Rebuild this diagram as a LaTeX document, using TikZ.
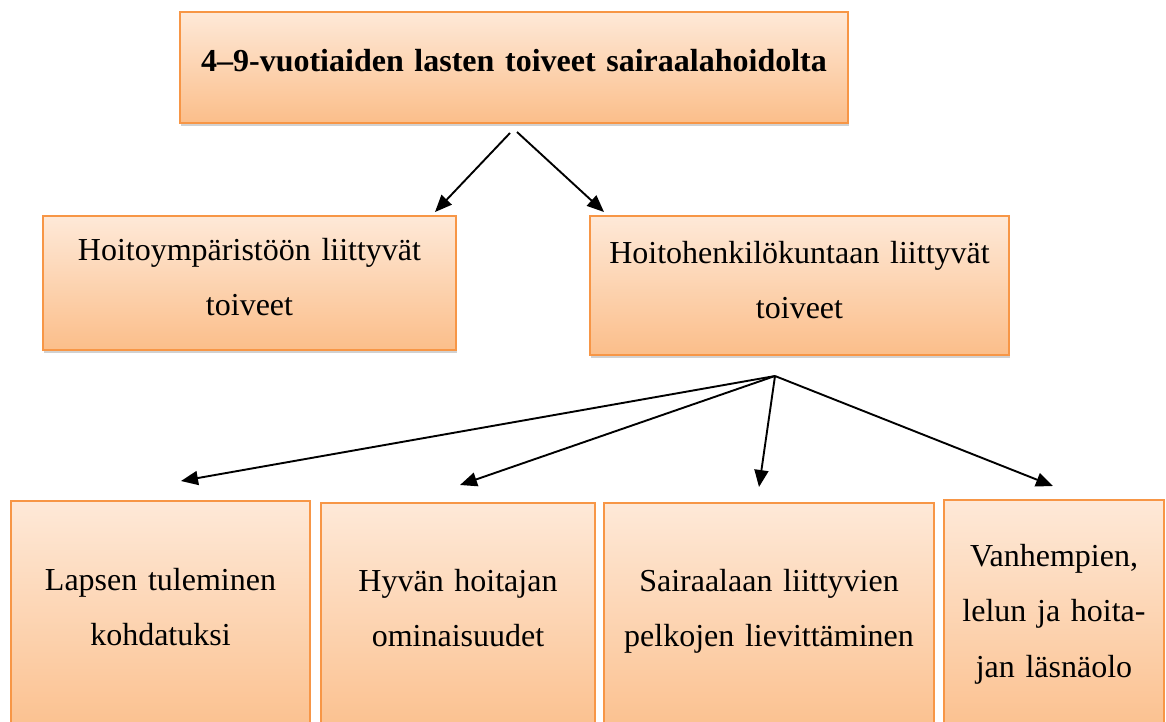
\documentclass[tikz,border=0pt]{standalone}
\usepackage{fontspec}
\setmainfont{Liberation Serif}
\usetikzlibrary{arrows.meta,shadows}
\definecolor{boxorange}{RGB}{247,150,70}
\definecolor{peachtop}{RGB}{254,233,216}
\definecolor{peachbot}{RGB}{251,190,138}
\tikzset{
  box/.style={draw=boxorange, line width=1.6pt, top color=peachtop, bottom color=peachbot,
    drop shadow={shadow xshift=1pt, shadow yshift=-3pt, opacity=0.3, fill=black!60},
    inner sep=0pt, outer sep=0pt, align=center,
    font=\fontsize{32}{55.5}\selectfont, text height=0pt},
  link/.style={line width=1.9pt, -{Triangle[length=17pt,width=14pt]}}
}
\begin{document}
\begin{tikzpicture}[x=1pt,y=-1pt]
\useasboundingbox (0,0) rectangle (1166,721);
% top
\node[box, minimum width=668pt, minimum height=111pt, text width=650pt, text height=7pt, text depth=0pt]
  (root) at (514,67.5) {\textbf{4–9-vuotiaiden lasten toiveet sairaalahoidolta}};
% middle
\node[box, minimum width=413pt, minimum height=134pt, text width=400pt, text depth=46pt]
  (env) at (249.5,283) {Hoitoympäristöön liittyvät\\toiveet};
\node[box, minimum width=419pt, minimum height=139pt, text width=405pt, text depth=45pt]
  (staff) at (799.5,285.5) {Hoitohenkilökuntaan liittyvät\\toiveet};
% bottom
\node[box, minimum width=299pt, minimum height=244pt, text width=290pt, text depth=66pt]
  (c1) at (160.5,623) {Lapsen tuleminen\\kohdatuksi};
\node[box, minimum width=274pt, minimum height=242pt, text width=265pt, text depth=66pt]
  (c2) at (458,624) {Hyvän hoitajan\\ominaisuudet};
\node[box, minimum width=330pt, minimum height=242pt, text width=322pt, text depth=66pt]
  (c3) at (769,624) {Sairaalaan liittyvien\\pelkojen lievittäminen};
\node[box, minimum width=220pt, minimum height=245pt, text width=214pt, text depth=113pt]
  (c4) at (1054,622.5) {Vanhempien,\\lelun ja hoita-\\jan läsnäolo};
% connector end points
\coordinate (s1) at (510,133);
\coordinate (t1) at (435,212);
\coordinate (s2) at (517,132);
\coordinate (t2) at (604,212);
\coordinate (apex) at (775,376);
\coordinate (b1) at (181,481);
\coordinate (b2) at (460,485);
\coordinate (b3) at (759,487);
\coordinate (b4) at (1053,486);
\draw[link] (s1) -- (t1);
\draw[link] (s2) -- (t2);
\draw[link] (apex) -- (b1);
\draw[link] (apex) -- (b2);
\draw[link] (apex) -- (b3);
\draw[link] (apex) -- (b4);
\end{tikzpicture}
\end{document}
